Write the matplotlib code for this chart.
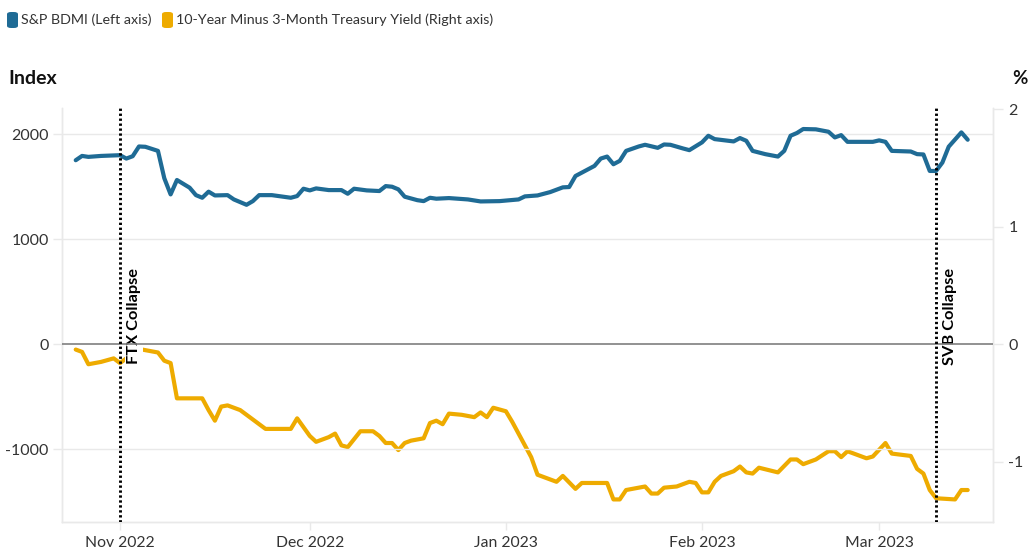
import matplotlib
matplotlib.use("Agg")
import matplotlib.pyplot as plt
import matplotlib.dates as mdates
from matplotlib.patches import FancyBboxPatch
import pandas as pd

plt.rcParams['font.family'] = ['Lato', 'DejaVu Sans']

# ---------------- data ----------------
bdmi_dates = ["2022-10-25", "2022-10-26", "2022-10-27", "2022-10-29", "2022-11-01", "2022-11-02",
              "2022-11-03", "2022-11-04", "2022-11-05", "2022-11-07", "2022-11-08", "2022-11-09",
              "2022-11-10", "2022-11-12", "2022-11-13", "2022-11-14", "2022-11-15", "2022-11-16",
              "2022-11-18", "2022-11-19", "2022-11-21", "2022-11-22", "2022-11-23", "2022-11-25",
              "2022-11-28", "2022-11-29", "2022-11-30", "2022-12-01", "2022-12-02", "2022-12-04",
              "2022-12-06", "2022-12-07", "2022-12-08", "2022-12-10", "2022-12-12", "2022-12-13",
              "2022-12-14", "2022-12-15", "2022-12-16", "2022-12-18", "2022-12-19", "2022-12-20",
              "2022-12-21", "2022-12-23", "2022-12-26", "2022-12-28", "2022-12-31", "2023-01-03",
              "2023-01-04", "2023-01-06", "2023-01-08", "2023-01-10", "2023-01-11", "2023-01-12",
              "2023-01-13", "2023-01-15", "2023-01-16", "2023-01-17", "2023-01-18", "2023-01-19",
              "2023-01-20", "2023-01-22", "2023-01-23", "2023-01-25", "2023-01-26", "2023-01-27",
              "2023-01-29", "2023-01-30", "2023-02-01", "2023-02-02", "2023-02-03", "2023-02-06",
              "2023-02-07", "2023-02-08", "2023-02-09", "2023-02-11", "2023-02-13", "2023-02-14",
              "2023-02-15", "2023-02-16", "2023-02-17", "2023-02-19", "2023-02-21", "2023-02-22",
              "2023-02-23", "2023-02-24", "2023-02-26", "2023-02-28", "2023-03-01", "2023-03-02",
              "2023-03-03", "2023-03-06", "2023-03-07", "2023-03-08", "2023-03-09", "2023-03-10",
              "2023-03-11", "2023-03-12", "2023-03-14", "2023-03-15"]
bdmi_values = [1751, 1792, 1783, 1792, 1799, 1767,
               1789, 1882, 1879, 1840, 1580, 1426,
               1563, 1490, 1419, 1394, 1452, 1416,
               1419, 1378, 1327, 1362, 1419, 1419,
               1394, 1410, 1480, 1464, 1483, 1467,
               1467, 1432, 1480, 1464, 1458, 1505,
               1499, 1474, 1404, 1371, 1362, 1394,
               1385, 1391, 1378, 1359, 1362, 1378,
               1407, 1416, 1448, 1493, 1496, 1601,
               1633, 1697, 1767, 1786, 1713, 1745,
               1840, 1882, 1898, 1869, 1901, 1898,
               1863, 1847, 1921, 1984, 1952, 1930,
               1962, 1936, 1840, 1809, 1786, 1840,
               1984, 2010, 2048, 2045, 2022, 1968,
               1990, 1926, 1926, 1926, 1940, 1926,
               1840, 1834, 1809, 1806, 1649, 1649,
               1729, 1880, 2016, 1946]

yield_dates = ["2022-10-25", "2022-10-26", "2022-10-27", "2022-10-29", "2022-10-31", "2022-11-01",
               "2022-11-03", "2022-11-04", "2022-11-06", "2022-11-07", "2022-11-08", "2022-11-09",
               "2022-11-10", "2022-11-14", "2022-11-15", "2022-11-16", "2022-11-17", "2022-11-18",
               "2022-11-20", "2022-11-22", "2022-11-24", "2022-11-26", "2022-11-28", "2022-11-29",
               "2022-12-01", "2022-12-02", "2022-12-04", "2022-12-05", "2022-12-06", "2022-12-07",
               "2022-12-09", "2022-12-11", "2022-12-12", "2022-12-13", "2022-12-14", "2022-12-15",
               "2022-12-16", "2022-12-17", "2022-12-19", "2022-12-20", "2022-12-21", "2022-12-22",
               "2022-12-23", "2022-12-25", "2022-12-27", "2022-12-28", "2022-12-29", "2022-12-30",
               "2023-01-01", "2023-01-02", "2023-01-04", "2023-01-05", "2023-01-06", "2023-01-08",
               "2023-01-09", "2023-01-10", "2023-01-12", "2023-01-13", "2023-01-17", "2023-01-18",
               "2023-01-19", "2023-01-20", "2023-01-22", "2023-01-23", "2023-01-24", "2023-01-25",
               "2023-01-26", "2023-01-28", "2023-01-30", "2023-01-31", "2023-02-01", "2023-02-02",
               "2023-02-03", "2023-02-04", "2023-02-06", "2023-02-07", "2023-02-08", "2023-02-09",
               "2023-02-10", "2023-02-13", "2023-02-15", "2023-02-16", "2023-02-17", "2023-02-19",
               "2023-02-21", "2023-02-22", "2023-02-23", "2023-02-24", "2023-02-27", "2023-02-28",
               "2023-03-02", "2023-03-03", "2023-03-06", "2023-03-07", "2023-03-08", "2023-03-09",
               "2023-03-10", "2023-03-13", "2023-03-14", "2023-03-15"]
yield_values = [-0.045, -0.065, -0.17, -0.15, -0.12, -0.16,
                -0.08, -0.04, -0.06, -0.07, -0.14, -0.16,
                -0.46, -0.46, -0.56, -0.65, -0.53, -0.52,
                -0.56, -0.64, -0.72, -0.72, -0.72, -0.63,
                -0.78, -0.83, -0.79, -0.76, -0.86, -0.875,
                -0.74, -0.74, -0.78, -0.84, -0.84, -0.90,
                -0.84, -0.82, -0.80, -0.67, -0.65, -0.68,
                -0.59, -0.60, -0.62, -0.58, -0.62, -0.54,
                -0.57, -0.66, -0.86, -0.96, -1.11, -1.15,
                -1.17, -1.12, -1.23, -1.18, -1.18, -1.32,
                -1.32, -1.24, -1.22, -1.21, -1.27, -1.27,
                -1.22, -1.21, -1.17, -1.18, -1.26, -1.26,
                -1.17, -1.12, -1.08, -1.04, -1.09, -1.10,
                -1.05, -1.09, -0.98, -0.98, -1.02, -0.98,
                -0.91, -0.91, -0.96, -0.91, -0.97, -0.955,
                -0.84, -0.93, -0.95, -1.06, -1.10, -1.24,
                -1.31, -1.32, -1.24, -1.24]

event_dates = ["2022-11-01", "2023-03-10"]
event_labels = ["FTX Collapse", "SVB Collapse"]

left_ticks = [-1000, 0, 1000, 2000]
right_ticks = [-1, 0, 1, 2]
x_ticks = ["2022-11-01", "2022-12-01", "2023-01-01", "2023-02-01", "2023-03-01"]

series_names = ["S&P BDMI (Left axis)", "10-Year Minus 3-Month Treasury Yield (Right axis)"]

# ---------------- style ----------------
BLUE = "#1f6b95"
ORANGE = "#eeab00"
GRID = "#e9e9e9"
TXT = "#333333"

W, H = 1030, 551
fig = plt.figure(figsize=(W / 100, H / 100), dpi=100)
L, R, T, B = 62, 993, 108, 522
ax = fig.add_axes([L / W, 1 - B / H, (R - L) / W, (B - T) / H])
ax2 = ax.twinx()
ax.set_zorder(ax2.get_zorder() + 1)
ax.patch.set_visible(False)

bd = pd.to_datetime(bdmi_dates)
yd = pd.to_datetime(yield_dates)

ax2.plot(yd, yield_values, color=ORANGE, lw=3.0, solid_joinstyle='round',
         solid_capstyle='round', zorder=2)
ax.plot(bd, bdmi_values, color=BLUE, lw=3.0, solid_joinstyle='round',
        solid_capstyle='round', zorder=3)

x0 = mdates.date2num(pd.Timestamp("2022-11-01"))
ax.set_xlim(x0 - 9.17, x0 + 138.0)
ax.set_ylim(-1691, 2248)
ax2.set_ylim(-1.512, 2.01)

# grid
for v in left_ticks:
    if v == 0:
        ax.axhline(v, color="#7f7f7f", lw=1.2, zorder=5)
    else:
        ax.axhline(v, color=GRID, lw=1.0, zorder=0)

# events
for d, lab in zip(event_dates, event_labels):
    dn = pd.Timestamp(d)
    ax.axvline(dn, color="black", lw=2.1, ls=(0, (0.8, 0.9)), zorder=6)
    ax.text(dn + pd.Timedelta(days=1.1), 726, lab, rotation=90, ha='left', va='top',
            fontsize=11.8, fontweight='bold', color='black', zorder=4,
            bbox=dict(boxstyle='square,pad=0.1', fc='white', ec='none'))

# spines
for a in (ax, ax2):
    a.spines['top'].set_visible(False)
    for s in ('left', 'right', 'bottom'):
        a.spines[s].set_color(GRID)
        a.spines[s].set_linewidth(1.0)

ax.set_yticks(left_ticks)
ax.set_yticklabels([str(v) for v in left_ticks])
ax2.set_yticks(right_ticks)
ax2.set_yticklabels([str(v) for v in right_ticks])
ax.set_xticks(pd.to_datetime(x_ticks))
ax.xaxis.set_major_formatter(mdates.DateFormatter("%b %Y"))

ax.tick_params(axis='y', length=6.5, width=1, color=GRID, labelsize=11.5, labelcolor=TXT, pad=3)
ax2.tick_params(axis='y', length=7, width=1, color=GRID, labelsize=11.5, labelcolor=TXT, pad=4)
ax.tick_params(axis='x', length=6, width=1, color=GRID, labelsize=11.3, labelcolor=TXT, pad=4)

# axis titles
fig.text(8 / W, 1 - 79 / H, "Index", ha='left', va='center', fontsize=14,
         fontweight='bold', color='#111111')
fig.text(1020 / W, 1 - 78 / H, "%", ha='center', va='center', fontsize=13.5,
         fontweight='bold', color='#111111')

# legend
items = [(7, 20, BLUE, series_names[0]), (162, 20, ORANGE, series_names[1])]
for px, py, col, lab in items:
    patch = FancyBboxPatch((px / W, 1 - (py + 8) / H), 11 / W, 16 / H,
                           boxstyle="round,pad=0,rounding_size=0.004",
                           transform=fig.transFigure, fc=col, ec='none')
    fig.patches.append(patch)
    fig.text((px + 14) / W, 1 - py / H, lab, ha='left', va='center', fontsize=10.3, color=TXT)

fig.savefig("out.png", dpi=100)
